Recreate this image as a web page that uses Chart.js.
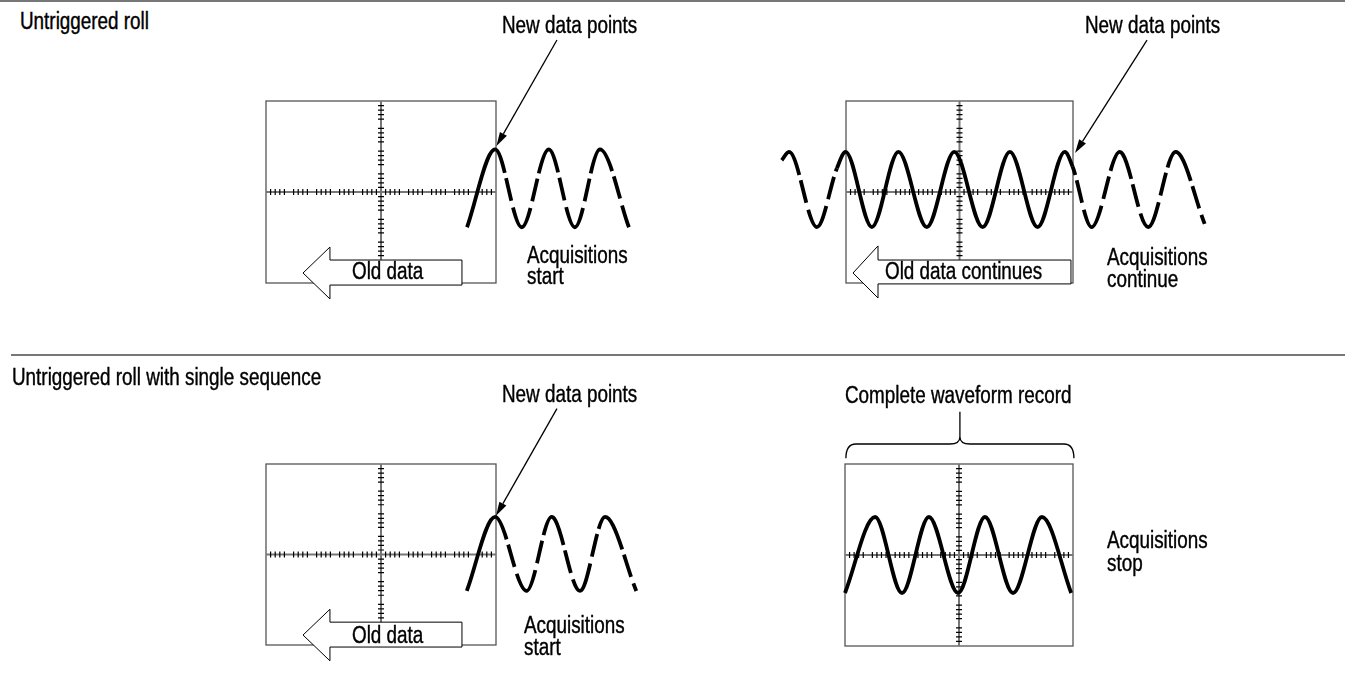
<!DOCTYPE html>
<html>
<head>
<meta charset="utf-8">
<title>Untriggered roll</title>
<script src="https://cdn.jsdelivr.net/npm/chart.js@4.4.1/dist/chart.umd.min.js"></script>
<style>
  html, body { margin: 0; padding: 0; background: #fff; }
  #page { position: relative; width: 1345px; height: 673px; overflow: hidden; background: #fff; }
  .panel { position: absolute; }
  .label { position: absolute; white-space: pre; color: #000; transform-origin: 0 0; z-index: 2;
           -webkit-text-stroke: 0.4px #000; }
  .rule { position: absolute; background: #777; height: 2px; }
</style>
</head>
<body>
<div id="page">
  <div class="rule" style="left:0; top:0; width:1345px;"></div>
  <div class="rule" style="left:11px; top:354px; width:1334px;"></div>
</div>
<script>
// Waveforms, in graticule divisions.
// The screen box is 10 divisions wide and 8 high, centred on (0, 0).

// untriggered roll: acquisitions start
const startX = [3.74, 4.96, 6.12, 7.29, 8.43, 9.52, 10.78];
const startY = [-1.55, 1.87, -1.55, 1.87, -1.55, 1.87, -1.55];

// untriggered roll: acquisitions continue
const contX = [-7.83, -7.51, -6.28, -5.4, -5.02, -3.86, -2.69, -1.44, -0.23, 1.02,
               2.22, 3.44, 4.64, 4.98, 5.82, 7.06, 8.31, 9.52, 10.8];
const contY = [1.4, 1.76, -1.54, 1.04, 1.76, -1.54, 1.76, -1.54, 1.76, -1.54,
               1.76, -1.54, 1.76, 1.12, -1.54, 1.76, -1.54, 1.76, -1.4];

// single sequence: acquisitions start
const seqX = [3.73, 4.96, 6.33, 7.42, 8.65, 9.74, 11.1];
const seqY = [-1.61, 1.66, -1.61, 1.66, -1.61, 1.66, -1.61];

// single sequence: acquisitions stop (complete record)
const stopX = [-5, -3.68, -2.5, -1.32, -0.04, 1.14, 2.37, 3.64, 4.92];
const stopY = [-1.67, 1.67, -1.67, 1.67, -1.67, 1.67, -1.67, 1.67, -1.67];

// dash pattern of the projected waveform, starting on a peak (px)
const DASH = [26, 5.5, 23, 7, 44, 7, 23, 5.5, 26, 0];

const FONT_SIZE = 23;

const labels = [
    { text: 'Untriggered roll', x: 20, base: 29 },
    { text: 'New data points', x: 502, base: 33 },
    { text: 'New data points', x: 1085, base: 33 },
    { text: 'Acquisitions\nstart', x: 527, base: 263, lh: 21 },
    { text: 'Acquisitions\ncontinue', x: 1107, base: 265, lh: 22 },
    { text: 'Old data', x: 352, base: 279 },
    { text: 'Old data continues', x: 885, base: 279 },
    { text: 'Untriggered roll with single sequence', x: 12, base: 385 },
    { text: 'New data points', x: 502, base: 402 },
    { text: 'Complete waveform record', x: 845, base: 403 },
    { text: 'Acquisitions\nstart', x: 524, base: 633, lh: 22 },
    { text: 'Old data', x: 352, base: 643 },
    { text: 'Acquisitions\nstop', x: 1107, base: 548, lh: 23 }
];

const rollArrow = { tip: -3.39, head: -2.22, end: 3.52, mid: -3.56, top: -2.99, bottom: -4.09, headTop: -2.42, headBottom: -4.7 };

const panels = [
    {
        id: 'roll-start', canvas: { left: 180, top: 30, width: 500, height: 290 },
        box: { l: 266, r: 496, t: 101, b: 283 },
        xs: startX, ys: startY,
        dashed: [{ from: 1, to: 99, offset: 0 }],
        pointer: { from: [7.65, 6.68], to: [5.02, 2.02] },
        hollow: rollArrow
    },
    {
        id: 'roll-continue', canvas: { left: 760, top: 30, width: 480, height: 290 },
        box: { l: 846, r: 1073, t: 101, b: 283 },
        xs: contX, ys: contY,
        dashed: [{ from: 0, to: 3, offset: 156 }, { from: 13, to: 99, offset: 17 }],
        pointer: { from: [8.26, 6.68], to: [5.09, 1.71] },
        hollow: { tip: -4.69, head: -3.59, end: 4.91, mid: -3.56, top: -2.99, bottom: -4.04, headTop: -2.37, headBottom: -4.66 }
    },
    {
        id: 'seq-start', canvas: { left: 180, top: 380, width: 500, height: 293 },
        box: { l: 266, r: 496, t: 464, b: 645 },
        xs: seqX, ys: seqY,
        dashed: [{ from: 1, to: 99, offset: 0 }],
        pointer: { from: [7.65, 6.45], to: [5.0, 1.71] },
        hollow: rollArrow
    },
    {
        id: 'seq-stop', canvas: { left: 760, top: 380, width: 480, height: 293 },
        box: { l: 845, r: 1073, t: 464, b: 646 },
        xs: stopX, ys: stopY,
        dashed: [],
        brace: { left: -4.96, right: 5.04, mid: 0.04, ends: 4.25, bar: 4.88, tip: 5.2, stem: 6.3 }
    }
];

const byId = {};
panels.forEach(p => { byId[p.id] = p; });

function drawPointer(ctx, x, y, p) {
    const x0 = x.getPixelForValue(p.from[0]), y0 = y.getPixelForValue(p.from[1]);
    const x1 = x.getPixelForValue(p.to[0]), y1 = y.getPixelForValue(p.to[1]);
    const a = Math.atan2(y1 - y0, x1 - x0);
    const len = 14, half = 4;
    const bx = x1 - len * Math.cos(a), by = y1 - len * Math.sin(a);
    ctx.strokeStyle = '#000';
    ctx.lineWidth = 1.3;
    ctx.beginPath();
    ctx.moveTo(x0, y0);
    ctx.lineTo(bx, by);
    ctx.stroke();
    ctx.fillStyle = '#000';
    ctx.beginPath();
    ctx.moveTo(x1, y1);
    ctx.lineTo(bx + half * Math.sin(a), by - half * Math.cos(a));
    ctx.lineTo(bx - half * Math.sin(a), by + half * Math.cos(a));
    ctx.closePath();
    ctx.fill();
}

function drawHollow(ctx, x, y, h) {
    const tipX = x.getPixelForValue(h.tip), tipY = y.getPixelForValue(h.mid);
    const headX = x.getPixelForValue(h.head), endX = x.getPixelForValue(h.end);
    const rt = y.getPixelForValue(h.top), rb = y.getPixelForValue(h.bottom);
    const ht = y.getPixelForValue(h.headTop), hb = y.getPixelForValue(h.headBottom);
    ctx.beginPath();
    ctx.moveTo(tipX, tipY);
    ctx.lineTo(headX, ht);
    ctx.lineTo(headX, rt);
    ctx.lineTo(endX, rt);
    ctx.lineTo(endX, rb);
    ctx.lineTo(headX, rb);
    ctx.lineTo(headX, hb);
    ctx.closePath();
    ctx.fillStyle = '#fff';
    ctx.fill();
    ctx.strokeStyle = '#000';
    ctx.lineWidth = 1;
    ctx.stroke();
}

function drawBrace(ctx, x, y, b) {
    const l = x.getPixelForValue(b.left), r = x.getPixelForValue(b.right), m = x.getPixelForValue(b.mid);
    const yEnd = y.getPixelForValue(b.ends), yBar = y.getPixelForValue(b.bar);
    const yTip = y.getPixelForValue(b.tip), yTop = y.getPixelForValue(b.stem);
    const rad = 10;
    ctx.strokeStyle = '#000';
    ctx.lineWidth = 1.3;
    ctx.beginPath();
    ctx.moveTo(l, yEnd);
    ctx.quadraticCurveTo(l, yBar, l + rad, yBar);
    ctx.lineTo(m - rad, yBar);
    ctx.quadraticCurveTo(m, yBar, m, yTip);
    ctx.quadraticCurveTo(m, yBar, m + rad, yBar);
    ctx.lineTo(r - rad, yBar);
    ctx.quadraticCurveTo(r, yBar, r, yEnd);
    ctx.moveTo(m, yTip);
    ctx.lineTo(m, yTop);
    ctx.stroke();
}

// screen box, centre axes with 0.2 div minor ticks, and the annotations
const graticule = {
    id: 'graticule',
    beforeDatasetsDraw(chart) {
        const { ctx, scales: { x, y } } = chart;
        const L = x.getPixelForValue(-5), R = x.getPixelForValue(5);
        const T = y.getPixelForValue(4), B = y.getPixelForValue(-4);
        const cx = x.getPixelForValue(0), cy = y.getPixelForValue(0);
        ctx.save();
        ctx.strokeStyle = '#555';
        ctx.lineWidth = 1.3;
        ctx.strokeRect(L, T, R - L, B - T);
        ctx.strokeStyle = '#777';
        ctx.lineWidth = 2;
        ctx.beginPath();
        ctx.moveTo(L, cy); ctx.lineTo(R, cy);
        ctx.moveTo(cx, T); ctx.lineTo(cx, B);
        ctx.stroke();
        ctx.strokeStyle = '#000';
        ctx.lineWidth = 1.2;
        ctx.beginPath();
        for (let i = -24; i <= 24; i++) {
            if (i % 5 === 0) continue;
            const px = x.getPixelForValue(i / 5);
            ctx.moveTo(px, cy - 3); ctx.lineTo(px, cy + 3);
        }
        for (let i = -19; i <= 19; i++) {
            if (i % 5 === 0) continue;
            const py = y.getPixelForValue(i / 5);
            ctx.moveTo(cx - 3, py); ctx.lineTo(cx + 3, py);
        }
        ctx.stroke();
        ctx.restore();
    },
    afterDatasetsDraw(chart) {
        const p = byId[chart.canvas.id];
        const { ctx, scales: { x, y } } = chart;
        ctx.save();
        if (p.hollow) drawHollow(ctx, x, y, p.hollow);
        if (p.pointer) drawPointer(ctx, x, y, p.pointer);
        if (p.brace) drawBrace(ctx, x, y, p.brace);
        ctx.restore();
    }
};

const page = document.getElementById('page');

panels.forEach(p => {
    const cv = document.createElement('canvas');
    cv.id = p.id;
    cv.className = 'panel';
    cv.width = p.canvas.width;
    cv.height = p.canvas.height;
    cv.style.left = p.canvas.left + 'px';
    cv.style.top = p.canvas.top + 'px';
    cv.style.width = p.canvas.width + 'px';
    cv.style.height = p.canvas.height + 'px';
    page.appendChild(cv);

    const ppx = (p.box.r - p.box.l) / 10;
    const ppy = (p.box.b - p.box.t) / 8;
    const xMin = -5 + (p.canvas.left - p.box.l) / ppx;
    const xMax = -5 + (p.canvas.left + p.canvas.width - p.box.l) / ppx;
    const yMax = 4 - (p.canvas.top - p.box.t) / ppy;
    const yMin = 4 - (p.canvas.top + p.canvas.height - p.box.t) / ppy;

    const runOf = (i) => p.dashed.find(r => i >= r.from && i < r.to);

    new Chart(cv, {
        type: 'line',
        data: {
            datasets: [{
                data: p.xs.map((v, i) => ({ x: v, y: p.ys[i] })),
                borderColor: '#000',
                borderWidth: 3.8,
                borderCapStyle: 'butt',
                pointRadius: 0,
                fill: false,
                cubicInterpolationMode: 'monotone',
                segment: {
                    borderDash: ctx => { const r = runOf(ctx.p0DataIndex); return r ? DASH : []; },
                    borderDashOffset: ctx => { const r = runOf(ctx.p0DataIndex); return r ? r.offset : 0; }
                }
            }]
        },
        options: {
            responsive: false,
            animation: false,
            events: [],
            layout: { padding: 0 },
            plugins: { legend: { display: false }, tooltip: { enabled: false } },
            scales: {
                x: { type: 'linear', display: false, min: xMin, max: xMax },
                y: { type: 'linear', display: false, min: yMin, max: yMax }
            }
        },
        plugins: [graticule]
    });
});

// text: condensed sans; squeeze Liberation Sans if the narrow cut is missing
function pickFont() {
    const c = document.createElement('canvas').getContext('2d');
    const probe = 'Acquisitions continue';
    c.font = '40px monospace';
    const mono = c.measureText(probe).width;
    c.font = '40px "Liberation Sans Narrow", monospace';
    const narrow = c.measureText(probe).width;
    if (Math.abs(narrow - mono) > 0.5) return { family: '"Liberation Sans Narrow"', squeeze: 1 };
    return { family: '"Liberation Sans", Arial, sans-serif', squeeze: 0.82 };
}

const font = pickFont();
labels.forEach(l => {
    const lh = l.lh || FONT_SIZE;
    const el = document.createElement('div');
    el.className = 'label';
    el.textContent = l.text;
    el.style.fontFamily = font.family;
    el.style.fontSize = FONT_SIZE + 'px';
    el.style.lineHeight = lh + 'px';
    el.style.left = l.x + 'px';
    el.style.top = (l.base - ((lh - 1.117 * FONT_SIZE) / 2 + 0.905 * FONT_SIZE)) + 'px';
    if (font.squeeze !== 1) el.style.transform = 'scaleX(' + font.squeeze + ')';
    page.appendChild(el);
});
</script>
</body>
</html>
